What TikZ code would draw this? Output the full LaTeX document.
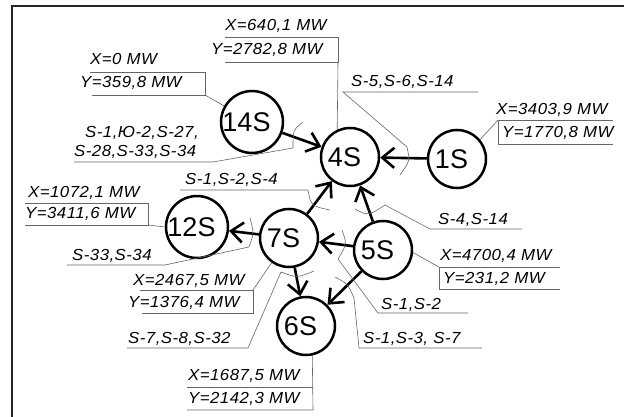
\documentclass[tikz,border=0pt]{standalone}
\usepackage{fontspec}
\setmainfont{Liberation Sans}
\newfontfamily\lblfont[FakeStretch=1.05,LetterSpace=3]{Liberation Sans}
\usetikzlibrary{arrows.meta}

\begin{document}
\begin{tikzpicture}[x=1pt,y=-1pt,
        stn/.style={circle,draw,line width=2.5pt,minimum size=58pt,inner sep=0pt,
            font=\fontsize{27}{27}\selectfont,execute at end node={\kern11pt}},
        flow/.style={line width=2.6pt,-{Straight Barb[length=12pt,width=20pt]}},
        lbl/.style={anchor=base west,inner sep=0pt,font=\lblfont\itshape\fontsize{16}{18}\selectfont},
        lead/.style={line width=0.6pt,black!60}]
        \useasboundingbox (0,0) rectangle (624,417);
        \draw[line width=1.6pt,black!85] (12,6) rectangle (700,500);

        % substations
        \node[stn] (n4) at (350,157) {4S};
        \node[stn] (n1) at (457,159) {1S};
        \node[stn] (n14) at (252,122) {14S};
        \node[stn] (n12) at (197,227) {12S};
        \node[stn] (n7) at (289,238) {7S};
        \node[stn] (n5) at (383,250) {5S};
        \node[stn] (n6) at (306,326) {6S};

        % flows
        \draw[flow] (n14) -- (n4);
        \draw[flow] (n1) -- (n4);
        \draw[flow] (n7) -- (n4);
        \draw[flow] (n5) -- (n4);
        \draw[flow] (n7) -- (n12);
        \draw[flow] (n5) -- (n7);
        \draw[flow] (n7) -- (n6);
        \draw[flow] (n5) -- (n6);

        % X/Y values
        \node[lbl] (x4) at (225,31) {X=640,1 MW};
        \node[lbl] (y4) at (211,55) {Y=2782,8 MW};
        \coordinate (c4) at (338,62);
        \draw[lead] (225,37) -| (c4) -- (225,62);
        \draw[lead] (c4) -- (n4.115);

        \node[lbl] (x14) at (90,65) {X=0 MW};
        \node[lbl] (y14) at (80,88) {Y=359,8 MW};
        \coordinate (c14) at (205,95);
        \draw[lead] (90,72) -| (c14) -- (92,95);
        \draw[lead] (c14) -- (n14.150);

        \node[lbl] (x1) at (496,115) {X=3403,9 MW};
        \node[lbl] (y1) at (502,138) {Y=1770,8 MW};
        \coordinate (c1) at (498,120);
        \draw[lead] (613,144) -| (c1) -- (613,120);
        \draw[lead] (c1) -- (n1.40);

        \node[lbl] (x12) at (28,197) {X=1072,1 MW};
        \node[lbl] (y12) at (25,218) {Y=3411,6 MW};
        \coordinate (c12) at (148,225);
        \draw[lead] (25,203) -| (c12) -- (25,225);
        \draw[lead] (c12) -- (n12.west);

        \node[lbl] (x7) at (133,285) {X=2467,5 MW};
        \node[lbl] (y7) at (128,307) {Y=1376,4 MW};
        \coordinate (c7) at (253,290);
        \draw[lead] (140,290) -- (c7) |- (142,313);
        \draw[lead] (c7) -- (n7.235);

        \node[lbl] (x6) at (188,380) {X=1687,5 MW};
        \node[lbl] (y6) at (188,403) {Y=2142,3 MW};
        \coordinate (c6) at (313,410);
        \draw[lead] (187,387) -- (313,387);
        \draw[lead] (n6.-78) -- (c6) -- (187,410);

        \node[lbl] (x5) at (440,260) {X=4700,4 MW};
        \node[lbl] (y5) at (443,283) {Y=231,2 MW};
        \coordinate (c5) at (439,267);
        \draw[lead] (560,289) -| (c5) -- (560,267);
        \draw[lead] (c5) -- (n5.-5);

        % sections
        \node[lbl] (s1) at (351,87) {S-5,S-6,S-14};
        \coordinate (a1) at (407,147);
        \draw[lead] (478,92) -- (343,92) -- (a1) .. controls (410,161) .. (400,175);

        \node[lbl] (s14a) at (85,138) {S-1,Ю-2,S-27,};
        \node[lbl] (s14b) at (74,157) {S-28,S-33,S-34};
        \coordinate (a14) at (293,148);
        \draw[lead] (74,162) -- (213,162) -- (a14) .. controls (293,130) .. (303,122);

        \node[lbl] (s74) at (185,185) {S-1,S-2,S-4};
        \coordinate (a74) at (308,190);
        \draw[lead] (180,190) -- (a74) .. controls (311,206) .. (330,210);

        \node[lbl] (s54) at (438,224) {S-4,S-14};
        \coordinate (a54) at (385,205);
        \draw[lead] (522,229) -- (430,229) -- (a54) .. controls (368,216) .. (355,209);

        \node[lbl] (s712) at (72,260) {S-33,S-34};
        \coordinate (a712) at (249,247);
        \draw[lead] (67,265) -- (165,265) -- (a712) .. controls (254,233) .. (250,218);

        \node[lbl] (s76) at (128,343) {S-7,S-8,S-32};
        \coordinate (a76) at (281,272);
        \draw[lead] (127,348) -- (248,348) -- (a76) .. controls (297,278) .. (314,271);

        \node[lbl] (s57) at (381,309) {S-1,S-2};
        \coordinate (a57) at (338,259);
        \draw[lead] (468,313) -- (378,313) -- (a57) .. controls (347,244) .. (342,230);

        \node[lbl] (s56) at (363,343) {S-1,S-3, S-7};
        \coordinate (a56) at (354,298);
        \draw[lead] (482,348) -- (359,348) -- (a56) .. controls (348,284) .. (335,277);
    \end{tikzpicture}
\end{document}
